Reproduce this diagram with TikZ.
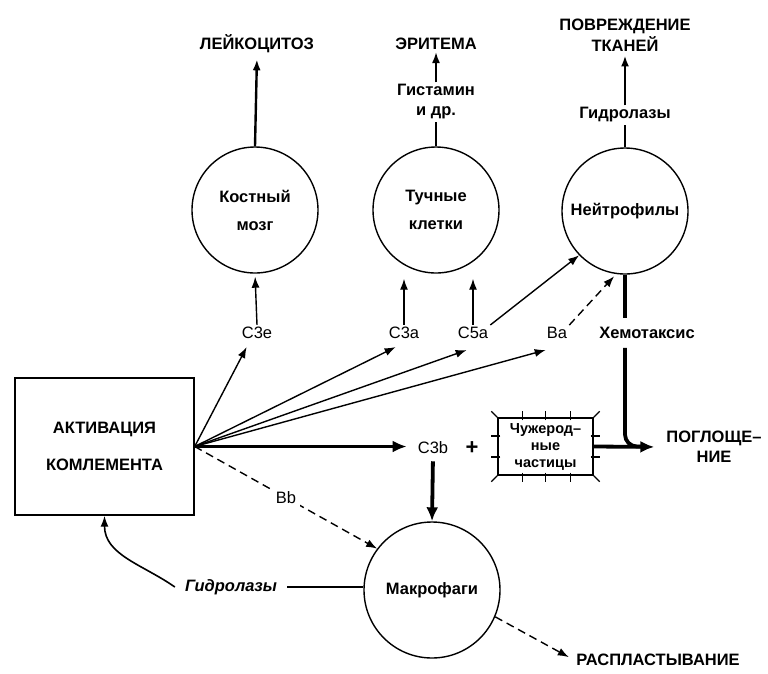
\documentclass[tikz,border=0pt]{standalone}
\usepackage{fontspec}
\setmainfont{Liberation Sans}
\usetikzlibrary{arrows.meta,calc}
\begin{document}
\begin{tikzpicture}[x=1pt,y=1pt,
  lbl/.style={font=\fontsize{16.5}{19}\selectfont\bfseries, align=center, inner sep=2pt},
  sym/.style={font=\fontsize{16.5}{19}\selectfont, inner sep=2pt},
  cell/.style={draw, circle, line width=1.4pt, minimum size=126pt, inner sep=0pt,
    font=\fontsize{16.5}{28}\selectfont\bfseries, align=center},
  conn/.style={line width=1.4pt, -{Latex[length=11pt,width=8pt]}},
  heavy/.style={line width=3.8pt, -{Latex[length=14pt,width=12pt]}},
  dashconn/.style={conn, dash pattern=on 8pt off 5pt},
  tick/.style={line width=1.1pt},
]
\fill[white] (0,0) rectangle (768,-673);
\useasboundingbox (0,0) rectangle (768,-673);

% cells
\node[cell] (bone) at (255,-210) {Костный\\мозг};
\node[cell] (mast) at (436,-210) {Тучные\\клетки};
\node[cell] (neut) at (625,-211) {Нейтрофилы};
\node[cell, minimum size=136pt] (macro) at (432,-590) {Макрофаги};

% complement activation box
\node[draw, line width=1.4pt, minimum width=179pt, minimum height=137pt,
  font=\fontsize{16.5}{19}\selectfont\bfseries, align=center] (act) at (104.5,-446.5)
  {АКТИВАЦИЯ\\[18pt]КОМЛЕМЕНТА};
\coordinate (hub) at (act.east);

% outcomes at the top
\node[lbl] (leuk) at (257,-44) {ЛЕЙКОЦИТОЗ};
\node[lbl] (eryth) at (436,-44) {ЭРИТЕМА};
\node[lbl, font=\fontsize{16.5}{21}\selectfont\bfseries] (damage) at (625,-35) {ПОВРЕЖДЕНИЕ\\ТКАНЕЙ};
\node[lbl, font=\fontsize{16.5}{20}\selectfont\bfseries] (hist) at (436,-102) {Гистамин\\и~др.};
\node[lbl] (hydro) at (625,-115) {Гидролазы};

\draw[conn, line width=2.4pt, shorten >=4pt] (bone.north) -- (leuk.south);
\draw[line width=1.6pt] (mast.north) -- (hist.south);
\draw[conn, line width=1.8pt] (hist.north) -- (eryth.south);
\draw[line width=2pt] (neut.north) -- (hydro.south);
\draw[conn, line width=2pt, shorten >=2pt] (hydro.north) -- (damage.south);

% cleavage fragments
\node[sym] (c3e) at (257,-333) {C3e};
\node[sym] (c3a) at (404,-333) {C3a};
\node[sym] (c5a) at (473,-333) {C5a};
\node[sym] (ba) at (557,-333) {Ba};
\node[lbl, inner ysep=9pt] (chemo) at (647,-333) {Хемотаксис};

\draw[conn, shorten >=3pt] (c3e.north) -- (bone.south);
\draw[conn, shorten >=5pt] (c3a.north) -- (c3a.north |- bone.south);
\draw[conn, shorten >=5pt] (c5a.north) -- (c5a.north |- bone.south);
\draw[conn] (c5a.north east) -- (neut.224);
\draw[dashconn, shorten >=3pt] (ba.north east) -- (neut.262);

% fan from the activation box
\draw[conn] (hub) -- ($(c3e.south west)+(7,-6)$);
\draw[conn] (hub) -- ($(c3a.south west)+(9,-6)$);
\draw[conn] (hub) -- ($(c5a.south west)+(11,-9)$);
\draw[conn] (hub) -- ($(ba.south west)+(1,-9)$);

% opsonisation
\node[sym] (c3b) at (433,-448) {C3b};
\node[font=\fontsize{22}{22}\selectfont\bfseries, inner sep=1pt] (plus) at (472,-448) {+};
\draw[heavy, shorten >=9pt] (hub) -- (hub -| c3b.west);
\draw[heavy, shorten <=5pt] (c3b.south) -- (macro.north);

\node[draw, line width=1.4pt, minimum width=95pt, minimum height=57pt, inner sep=1pt,
  font=\fontsize{14.5}{17}\selectfont\bfseries, align=center] (alien) at (545.5,-446.5)
  {Чужерод–\\ные\\частицы};
\foreach \f in {0.26,0.5,0.76} {
  \draw[tick] ($(alien.north west)!\f!(alien.north east)+(0,-3)$) -- ++(0,9);
  \draw[tick] ($(alien.south west)!\f!(alien.south east)+(0,3)$) -- ++(0,-9);
}
\foreach \f in {0.32,0.68} {
  \draw[tick] ($(alien.north west)!\f!(alien.south west)+(3,0)$) -- ++(-9,0);
  \draw[tick] ($(alien.north east)!\f!(alien.south east)+(-3,0)$) -- ++(9,0);
}
\draw[tick] (alien.north west) -- ++(-6,6);
\draw[tick] (alien.north east) -- ++(6,6);
\draw[tick] (alien.south west) -- ++(-6,-6);
\draw[tick] (alien.south east) -- ++(6,-6);

\node[lbl, font=\fontsize{16.5}{20}\selectfont\bfseries] (pogl) at (714,-447) {ПОГЛОЩЕ–\\НИЕ};
\draw[heavy, shorten >=10pt] (alien.east) -- (pogl.west);

% chemotaxis line from the neutrophils
\draw[line width=3.8pt] (neut.south) -- (neut.south |- chemo.north);
\draw[line width=3.8pt, rounded corners=12pt] (neut.south |- chemo.south) |- ($(neut.south |- alien.east)+(22,0)$);

% alternative pathway fragment Bb
\draw[dashconn] (hub) -- node[sym, fill=white, inner sep=4pt, pos=0.5] (bb) {Bb} (macro.143);

% macrophage hydrolases
\node[font=\fontsize{16.5}{19}\selectfont\bfseries\itshape, inner xsep=10pt] (hydro2) at (231,-587) {Гидролазы};
\draw[line width=1.4pt] (hydro2.east) -- (hydro2.east -| macro.west);
\draw[conn, line width=1.6pt] (hydro2.west) to[out=145, in=-90] (act.south);

% spreading
\node[lbl] (rasp) at (658,-660) {РАСПЛАСТЫВАНИЕ};
\draw[dashconn, shorten >=6pt] (macro.-23) -- (rasp.west);
\end{tikzpicture}
\end{document}
